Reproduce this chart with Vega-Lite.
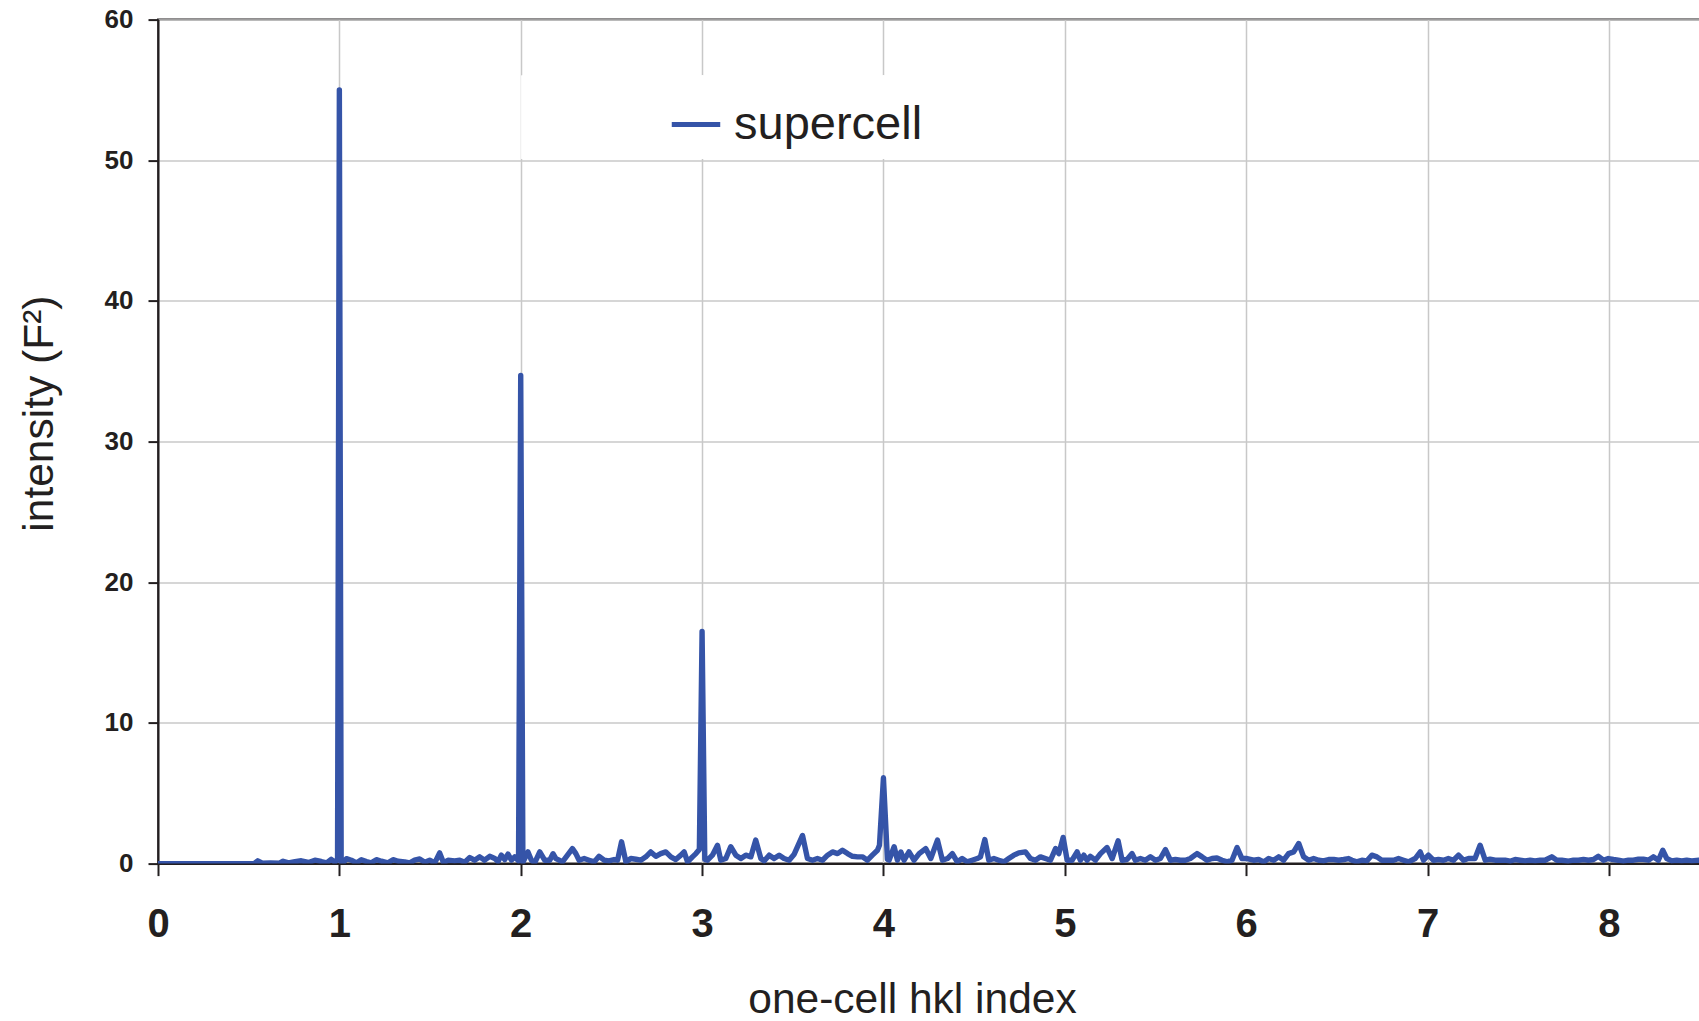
{
  "$schema": "https://vega.github.io/schema/vega-lite/v6.json",
  "autosize": "none",
  "width": 1543,
  "height": 844,
  "padding": {"left": 158, "top": 19.6, "right": 0, "bottom": 157.4},
  "background": "white",
  "config": {
    "view": {"stroke": "#231f20", "strokeWidth": 2},
    "font": "Liberation Sans"
  },
  "data": {"values": [
    {"hkl": 0, "intensity": 0}, {"hkl": 0.5, "intensity": 0}, {"hkl": 0.53, "intensity": 0},
    {"hkl": 0.55, "intensity": 0.2}, {"hkl": 0.575, "intensity": 0.03}, {"hkl": 0.62, "intensity": 0.05},
    {"hkl": 0.67, "intensity": 0.03}, {"hkl": 0.69, "intensity": 0.17}, {"hkl": 0.72, "intensity": 0.05},
    {"hkl": 0.755, "intensity": 0.14}, {"hkl": 0.79, "intensity": 0.2}, {"hkl": 0.83, "intensity": 0.08},
    {"hkl": 0.865, "intensity": 0.24}, {"hkl": 0.9, "intensity": 0.15}, {"hkl": 0.93, "intensity": 0.05},
    {"hkl": 0.955, "intensity": 0.3}, {"hkl": 0.975, "intensity": 0.1}, {"hkl": 0.99, "intensity": 0.3},
    {"hkl": 1.0, "intensity": 55}, {"hkl": 1.01, "intensity": 0.1},
    {"hkl": 1.02, "intensity": 0.05}, {"hkl": 1.039, "intensity": 0.35}, {"hkl": 1.066, "intensity": 0.24},
    {"hkl": 1.094, "intensity": 0.05}, {"hkl": 1.121, "intensity": 0.28}, {"hkl": 1.149, "intensity": 0.14},
    {"hkl": 1.176, "intensity": 0.05}, {"hkl": 1.204, "intensity": 0.28}, {"hkl": 1.232, "intensity": 0.17},
    {"hkl": 1.268, "intensity": 0.05}, {"hkl": 1.296, "intensity": 0.28}, {"hkl": 1.324, "intensity": 0.17},
    {"hkl": 1.36, "intensity": 0.12}, {"hkl": 1.388, "intensity": 0.05}, {"hkl": 1.415, "intensity": 0.24},
    {"hkl": 1.443, "intensity": 0.33}, {"hkl": 1.471, "intensity": 0.1}, {"hkl": 1.498, "intensity": 0.24},
    {"hkl": 1.526, "intensity": 0.05}, {"hkl": 1.553, "intensity": 0.76}, {"hkl": 1.575, "intensity": 0.05},
    {"hkl": 1.599, "intensity": 0.24}, {"hkl": 1.636, "intensity": 0.19}, {"hkl": 1.664, "intensity": 0.24},
    {"hkl": 1.691, "intensity": 0.1}, {"hkl": 1.719, "intensity": 0.43}, {"hkl": 1.746, "intensity": 0.24},
    {"hkl": 1.774, "intensity": 0.48}, {"hkl": 1.801, "intensity": 0.24}, {"hkl": 1.829, "intensity": 0.52},
    {"hkl": 1.857, "intensity": 0.36}, {"hkl": 1.875, "intensity": 0.14}, {"hkl": 1.893, "intensity": 0.6},
    {"hkl": 1.912, "intensity": 0.29}, {"hkl": 1.93, "intensity": 0.67}, {"hkl": 1.949, "intensity": 0.24},
    {"hkl": 1.967, "intensity": 0.48}, {"hkl": 1.988, "intensity": 0.2},
    {"hkl": 2.0, "intensity": 34.7}, {"hkl": 2.012, "intensity": 0.1},
    {"hkl": 2.04, "intensity": 0.83}, {"hkl": 2.059, "intensity": 0.24}, {"hkl": 2.077, "intensity": 0.05},
    {"hkl": 2.105, "intensity": 0.83}, {"hkl": 2.132, "intensity": 0.24}, {"hkl": 2.16, "intensity": 0.24},
    {"hkl": 2.178, "intensity": 0.7}, {"hkl": 2.194, "intensity": 0.36}, {"hkl": 2.212, "intensity": 0.24},
    {"hkl": 2.23, "intensity": 0.12}, {"hkl": 2.258, "intensity": 0.6}, {"hkl": 2.285, "intensity": 1.07},
    {"hkl": 2.304, "intensity": 0.71}, {"hkl": 2.322, "intensity": 0.24}, {"hkl": 2.35, "intensity": 0.36},
    {"hkl": 2.377, "intensity": 0.24}, {"hkl": 2.405, "intensity": 0.12}, {"hkl": 2.432, "intensity": 0.52},
    {"hkl": 2.46, "intensity": 0.24}, {"hkl": 2.487, "intensity": 0.19}, {"hkl": 2.515, "intensity": 0.29},
    {"hkl": 2.534, "intensity": 0.24}, {"hkl": 2.556, "intensity": 1.55}, {"hkl": 2.58, "intensity": 0.12},
    {"hkl": 2.607, "intensity": 0.36}, {"hkl": 2.635, "intensity": 0.31}, {"hkl": 2.662, "intensity": 0.24},
    {"hkl": 2.69, "intensity": 0.48}, {"hkl": 2.717, "intensity": 0.83}, {"hkl": 2.745, "intensity": 0.52},
    {"hkl": 2.772, "intensity": 0.71}, {"hkl": 2.8, "intensity": 0.83}, {"hkl": 2.828, "intensity": 0.48},
    {"hkl": 2.855, "intensity": 0.29}, {"hkl": 2.883, "intensity": 0.6}, {"hkl": 2.901, "intensity": 0.83},
    {"hkl": 2.92, "intensity": 0.12}, {"hkl": 2.947, "intensity": 0.48}, {"hkl": 2.966, "intensity": 0.71},
    {"hkl": 2.985, "intensity": 1.0}, {"hkl": 3.0, "intensity": 16.5}, {"hkl": 3.015, "intensity": 0.3},
    {"hkl": 3.03, "intensity": 0.24}, {"hkl": 3.057, "intensity": 0.6}, {"hkl": 3.085, "intensity": 1.3},
    {"hkl": 3.103, "intensity": 0.24}, {"hkl": 3.131, "intensity": 0.36}, {"hkl": 3.158, "intensity": 1.2},
    {"hkl": 3.186, "intensity": 0.6}, {"hkl": 3.214, "intensity": 0.36}, {"hkl": 3.241, "intensity": 0.6},
    {"hkl": 3.269, "intensity": 0.48}, {"hkl": 3.296, "intensity": 1.67}, {"hkl": 3.324, "intensity": 0.36},
    {"hkl": 3.342, "intensity": 0.19}, {"hkl": 3.37, "intensity": 0.6}, {"hkl": 3.397, "intensity": 0.36},
    {"hkl": 3.425, "intensity": 0.6}, {"hkl": 3.452, "intensity": 0.36}, {"hkl": 3.48, "intensity": 0.24},
    {"hkl": 3.508, "intensity": 0.67}, {"hkl": 3.554, "intensity": 2.0}, {"hkl": 3.581, "intensity": 0.36},
    {"hkl": 3.609, "intensity": 0.24}, {"hkl": 3.636, "intensity": 0.36}, {"hkl": 3.664, "intensity": 0.24},
    {"hkl": 3.692, "intensity": 0.6}, {"hkl": 3.719, "intensity": 0.83}, {"hkl": 3.747, "intensity": 0.71},
    {"hkl": 3.774, "intensity": 0.95}, {"hkl": 3.802, "intensity": 0.71}, {"hkl": 3.829, "intensity": 0.52},
    {"hkl": 3.857, "intensity": 0.48}, {"hkl": 3.884, "intensity": 0.48}, {"hkl": 3.912, "intensity": 0.24},
    {"hkl": 3.939, "intensity": 0.6}, {"hkl": 3.967, "intensity": 0.95}, {"hkl": 3.978, "intensity": 1.3},
    {"hkl": 4.0, "intensity": 6.1}, {"hkl": 4.022, "intensity": 0.3},
    {"hkl": 4.031, "intensity": 0.24}, {"hkl": 4.059, "intensity": 1.2}, {"hkl": 4.077, "intensity": 0.24},
    {"hkl": 4.096, "intensity": 0.83}, {"hkl": 4.114, "intensity": 0.24}, {"hkl": 4.141, "intensity": 0.83},
    {"hkl": 4.169, "intensity": 0.24}, {"hkl": 4.197, "intensity": 0.71}, {"hkl": 4.233, "intensity": 1.07},
    {"hkl": 4.261, "intensity": 0.36}, {"hkl": 4.298, "intensity": 1.67}, {"hkl": 4.325, "intensity": 0.24},
    {"hkl": 4.353, "intensity": 0.36}, {"hkl": 4.38, "intensity": 0.71}, {"hkl": 4.407, "intensity": 0.12},
    {"hkl": 4.434, "intensity": 0.36}, {"hkl": 4.462, "intensity": 0.12}, {"hkl": 4.489, "intensity": 0.24},
    {"hkl": 4.517, "intensity": 0.36}, {"hkl": 4.535, "intensity": 0.48}, {"hkl": 4.559, "intensity": 1.71},
    {"hkl": 4.581, "intensity": 0.24}, {"hkl": 4.609, "intensity": 0.36}, {"hkl": 4.636, "intensity": 0.24},
    {"hkl": 4.664, "intensity": 0.12}, {"hkl": 4.691, "intensity": 0.36}, {"hkl": 4.719, "intensity": 0.6},
    {"hkl": 4.746, "intensity": 0.76}, {"hkl": 4.783, "intensity": 0.83}, {"hkl": 4.811, "intensity": 0.36},
    {"hkl": 4.838, "intensity": 0.24}, {"hkl": 4.866, "intensity": 0.48}, {"hkl": 4.893, "intensity": 0.36},
    {"hkl": 4.921, "intensity": 0.24}, {"hkl": 4.949, "intensity": 1.07}, {"hkl": 4.967, "intensity": 0.71},
    {"hkl": 4.991, "intensity": 1.86}, {"hkl": 5.013, "intensity": 0.24}, {"hkl": 5.04, "intensity": 0.24},
    {"hkl": 5.068, "intensity": 0.83}, {"hkl": 5.086, "intensity": 0.24}, {"hkl": 5.105, "intensity": 0.6},
    {"hkl": 5.123, "intensity": 0.24}, {"hkl": 5.141, "intensity": 0.52}, {"hkl": 5.169, "intensity": 0.24},
    {"hkl": 5.197, "intensity": 0.71}, {"hkl": 5.233, "intensity": 1.14}, {"hkl": 5.261, "intensity": 0.36},
    {"hkl": 5.294, "intensity": 1.62}, {"hkl": 5.316, "intensity": 0.24}, {"hkl": 5.343, "intensity": 0.29},
    {"hkl": 5.371, "intensity": 0.71}, {"hkl": 5.389, "intensity": 0.24}, {"hkl": 5.417, "intensity": 0.36},
    {"hkl": 5.444, "intensity": 0.24}, {"hkl": 5.472, "intensity": 0.48}, {"hkl": 5.5, "intensity": 0.24},
    {"hkl": 5.527, "intensity": 0.36}, {"hkl": 5.555, "intensity": 1.0}, {"hkl": 5.582, "intensity": 0.24},
    {"hkl": 5.61, "intensity": 0.29}, {"hkl": 5.637, "intensity": 0.24}, {"hkl": 5.665, "intensity": 0.24},
    {"hkl": 5.692, "intensity": 0.36}, {"hkl": 5.729, "intensity": 0.71}, {"hkl": 5.757, "intensity": 0.48},
    {"hkl": 5.784, "intensity": 0.24}, {"hkl": 5.812, "intensity": 0.36}, {"hkl": 5.839, "intensity": 0.4},
    {"hkl": 5.867, "intensity": 0.24}, {"hkl": 5.895, "intensity": 0.12}, {"hkl": 5.922, "intensity": 0.24},
    {"hkl": 5.95, "intensity": 1.14}, {"hkl": 5.977, "intensity": 0.36}, {"hkl": 6.005, "intensity": 0.36},
    {"hkl": 6.041, "intensity": 0.24}, {"hkl": 6.069, "intensity": 0.29}, {"hkl": 6.097, "intensity": 0.12},
    {"hkl": 6.124, "intensity": 0.36}, {"hkl": 6.152, "intensity": 0.24}, {"hkl": 6.179, "intensity": 0.48},
    {"hkl": 6.207, "intensity": 0.24}, {"hkl": 6.234, "intensity": 0.71}, {"hkl": 6.262, "intensity": 0.83},
    {"hkl": 6.29, "intensity": 1.43}, {"hkl": 6.317, "intensity": 0.48}, {"hkl": 6.345, "intensity": 0.24},
    {"hkl": 6.372, "intensity": 0.36}, {"hkl": 6.4, "intensity": 0.24}, {"hkl": 6.427, "intensity": 0.19},
    {"hkl": 6.455, "intensity": 0.29}, {"hkl": 6.483, "intensity": 0.29}, {"hkl": 6.51, "intensity": 0.24},
    {"hkl": 6.538, "intensity": 0.29}, {"hkl": 6.565, "intensity": 0.36}, {"hkl": 6.583, "intensity": 0.24},
    {"hkl": 6.61, "intensity": 0.12}, {"hkl": 6.638, "intensity": 0.24}, {"hkl": 6.665, "intensity": 0.19},
    {"hkl": 6.693, "intensity": 0.6}, {"hkl": 6.721, "intensity": 0.48}, {"hkl": 6.748, "intensity": 0.24},
    {"hkl": 6.785, "intensity": 0.24}, {"hkl": 6.813, "intensity": 0.24}, {"hkl": 6.84, "intensity": 0.36},
    {"hkl": 6.868, "intensity": 0.24}, {"hkl": 6.895, "intensity": 0.12}, {"hkl": 6.932, "intensity": 0.36},
    {"hkl": 6.96, "intensity": 0.83}, {"hkl": 6.978, "intensity": 0.24}, {"hkl": 7.005, "intensity": 0.6},
    {"hkl": 7.033, "intensity": 0.24}, {"hkl": 7.06, "intensity": 0.29}, {"hkl": 7.088, "intensity": 0.24},
    {"hkl": 7.115, "intensity": 0.36}, {"hkl": 7.143, "intensity": 0.24}, {"hkl": 7.171, "intensity": 0.6},
    {"hkl": 7.198, "intensity": 0.24}, {"hkl": 7.226, "intensity": 0.36}, {"hkl": 7.262, "intensity": 0.36},
    {"hkl": 7.29, "intensity": 1.31}, {"hkl": 7.318, "intensity": 0.24}, {"hkl": 7.345, "intensity": 0.31},
    {"hkl": 7.373, "intensity": 0.24}, {"hkl": 7.4, "intensity": 0.24}, {"hkl": 7.428, "intensity": 0.24},
    {"hkl": 7.455, "intensity": 0.17}, {"hkl": 7.483, "intensity": 0.29}, {"hkl": 7.51, "intensity": 0.24},
    {"hkl": 7.538, "intensity": 0.19}, {"hkl": 7.566, "intensity": 0.24}, {"hkl": 7.593, "intensity": 0.19},
    {"hkl": 7.621, "intensity": 0.24}, {"hkl": 7.648, "intensity": 0.24}, {"hkl": 7.685, "intensity": 0.48},
    {"hkl": 7.713, "intensity": 0.24}, {"hkl": 7.74, "intensity": 0.24}, {"hkl": 7.777, "intensity": 0.17},
    {"hkl": 7.805, "intensity": 0.24}, {"hkl": 7.832, "intensity": 0.24}, {"hkl": 7.86, "intensity": 0.29},
    {"hkl": 7.887, "intensity": 0.24}, {"hkl": 7.915, "intensity": 0.29}, {"hkl": 7.942, "intensity": 0.52},
    {"hkl": 7.97, "intensity": 0.24}, {"hkl": 7.997, "intensity": 0.36}, {"hkl": 8.025, "intensity": 0.29},
    {"hkl": 8.052, "intensity": 0.24}, {"hkl": 8.08, "intensity": 0.17}, {"hkl": 8.108, "intensity": 0.24},
    {"hkl": 8.135, "intensity": 0.24}, {"hkl": 8.163, "intensity": 0.31}, {"hkl": 8.19, "intensity": 0.31},
    {"hkl": 8.218, "intensity": 0.24}, {"hkl": 8.245, "intensity": 0.48}, {"hkl": 8.273, "intensity": 0.24},
    {"hkl": 8.297, "intensity": 0.95}, {"hkl": 8.319, "intensity": 0.36}, {"hkl": 8.347, "intensity": 0.19},
    {"hkl": 8.374, "intensity": 0.24}, {"hkl": 8.402, "intensity": 0.19}, {"hkl": 8.429, "intensity": 0.24},
    {"hkl": 8.457, "intensity": 0.19}, {"hkl": 8.496, "intensity": 0.24}, {"hkl": 8.508, "intensity": 0.24}
  ]},
  "layer": [
    {
      "mark": {"type": "rect", "fill": "white", "stroke": null},
      "encoding": {
        "x": {"datum": 2.006, "type": "quantitative"},
        "x2": {"datum": 4.994},
        "y": {"datum": 50.1, "type": "quantitative"},
        "y2": {"datum": 56}
      }
    },
    {
      "mark": {"type": "line", "strokeWidth": 5.4, "strokeJoin": "round", "strokeCap": "round", "clip": true},
      "encoding": {
        "x": {
          "field": "hkl", "type": "quantitative",
          "scale": {"domain": [0, 8.508], "nice": false, "zero": false},
          "axis": {
            "title": "one-cell hkl index",
            "values": [0, 1, 2, 3, 4, 5, 6, 7, 8],
            "format": "d",
            "labelFlush": false,
            "grid": true, "gridColor": "#c8c8c8", "gridWidth": 1.5,
            "domainColor": "#231f20", "domainWidth": 2,
            "tickColor": "#231f20", "tickWidth": 2, "tickSize": 12,
            "labelFont": "Liberation Sans", "labelFontWeight": "bold", "labelFontSize": 40,
            "labelColor": "#231f20", "labelPadding": 29, "labelBaseline": "top",
            "titleFont": "Liberation Sans", "titleFontWeight": "normal", "titleFontSize": 42.5,
            "titleColor": "#231f20", "titleX": 754, "titleY": 149, "titleAlign": "center",
            "titleBaseline": "alphabetic", "titleAnchor": null
          }
        },
        "y": {
          "field": "intensity", "type": "quantitative",
          "scale": {"domain": [0, 60], "nice": false},
          "axis": {
            "title": "intensity (F²)",
            "values": [0, 10, 20, 30, 40, 50, 60],
            "grid": true, "gridColor": "#c8c8c8", "gridWidth": 1.5,
            "domainColor": "#231f20", "domainWidth": 2,
            "tickColor": "#231f20", "tickWidth": 2, "tickSize": 10,
            "labelFont": "Liberation Sans", "labelFontWeight": "bold", "labelFontSize": 26,
            "labelColor": "#231f20", "labelPadding": 15,
            "titleFont": "Liberation Sans", "titleFontWeight": "normal", "titleFontSize": 42.5,
            "titleColor": "#231f20", "titleX": -106, "titleY": 393.5, "titleAngle": -90,
            "titleAlign": "center", "titleBaseline": "alphabetic", "titleAnchor": null
          }
        },
        "color": {
          "datum": "supercell", "type": "nominal",
          "scale": {"range": ["#3554a8"]},
          "legend": {
            "title": null, "orient": "none", "legendX": 511, "legendY": 78,
            "padding": 0, "symbolType": "stroke", "symbolStrokeWidth": 5, "symbolSize": 2350,
            "labelFont": "Liberation Sans", "labelFontSize": 47, "labelColor": "#231f20",
            "labelOffset": 11, "labelLimit": 0
          }
        }
      }
    }
  ]
}
